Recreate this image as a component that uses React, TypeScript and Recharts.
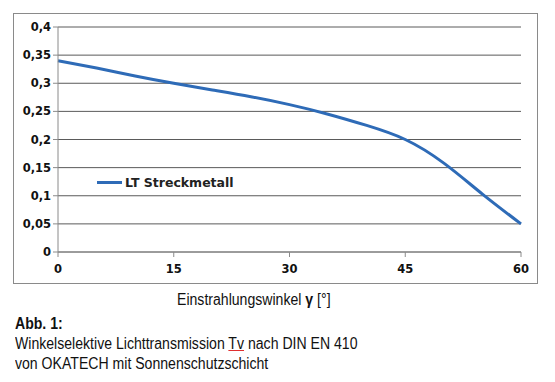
import { LineChart, Line, XAxis, YAxis, CartesianGrid, Legend } from "recharts";

const angles = [0, 5, 10, 15, 20, 25, 30, 35, 40, 45, 50, 55, 60];
const transmission = [0.34, 0.327, 0.313, 0.3, 0.288, 0.276, 0.262, 0.245, 0.225, 0.2, 0.158, 0.103, 0.05];
const xTicks = [0, 15, 30, 45, 60];
const yTicks = [0, 0.05, 0.1, 0.15, 0.2, 0.25, 0.3, 0.35, 0.4];
const seriesName = "LT Streckmetall";

const data = angles.map((a, i) => ({ angle: a, lt: transmission[i] }));

const fmt = (v: number) => String(v).replace(".", ",");

function LegendBox() {
    return (
        <div style={{ display: "flex", alignItems: "center", fontFamily: "'DejaVu Sans', sans-serif", fontWeight: "bold", fontSize: 12.5, color: "#222" }}>
            <span style={{ display: "inline-block", width: 25, height: 3, background: "#2e6bb7", marginRight: 3 }} />
            {seriesName}
        </div>
    );
}

export default function App() {
    const tickStyle = { fill: "#111", fontSize: 11.5, fontWeight: "bold", fontFamily: "'DejaVu Sans', sans-serif" };
    const capStyle = { position: "absolute" as const, left: 15, fontSize: 16, color: "#111", whiteSpace: "nowrap" as const, transform: "scaleX(0.88)", transformOrigin: "left" };
    return (
        <div style={{ position: "absolute", left: 0, top: 0, width: 555, height: 382, background: "#fff", fontFamily: "'Liberation Sans', Arial, sans-serif" }}>
            <div style={{ position: "absolute", left: 13, top: 13, width: 523, height: 269, border: "1px solid #8a8a8a" }} />
            <div style={{ position: "absolute", left: 0, top: 0 }}>
                <LineChart width={555} height={290} data={data} margin={{ top: 27, right: 34, left: 0, bottom: 0 }}>
                    <CartesianGrid vertical={false} stroke="#5a5a5a" strokeWidth={1} />
                    <XAxis
                        dataKey="angle"
                        type="number"
                        domain={[0, 60]}
                        ticks={xTicks}
                        height={38}
                        stroke="#8a8a8a"
                        tickSize={5}
                        tickMargin={8}
                        tick={tickStyle}
                    />
                    <YAxis
                        type="number"
                        domain={[0, 0.4]}
                        ticks={yTicks}
                        width={58}
                        stroke="#8a8a8a"
                        tickSize={5}
                        tickFormatter={fmt}
                        tick={tickStyle}
                    />
                    <Legend
                        layout="horizontal"
                        verticalAlign="middle"
                        align="center"
                        content={<LegendBox />}
                        wrapperStyle={{ position: "absolute", left: 97, top: 175, width: "auto" }}
                    />
                    <Line
                        type="natural"
                        dataKey="lt"
                        name={seriesName}
                        stroke="#2e6bb7"
                        strokeWidth={3}
                        dot={false}
                        isAnimationActive={false}
                    />
                </LineChart>
            </div>
            <div style={{ ...capStyle, left: 177, top: 291 }}>
                Einstrahlungswinkel <b>γ</b> [°]
            </div>
            <div style={{ ...capStyle, top: 315, fontWeight: "bold" }}>Abb. 1:</div>
            <div style={{ ...capStyle, top: 335 }}>
                Winkelselektive Lichttransmission <span style={{ textDecoration: "underline", textDecorationColor: "#e03030" }}>Tv</span> nach DIN EN 410
            </div>
            <div style={{ ...capStyle, top: 355 }}>von OKATECH mit Sonnenschutzschicht</div>
        </div>
    );
}
